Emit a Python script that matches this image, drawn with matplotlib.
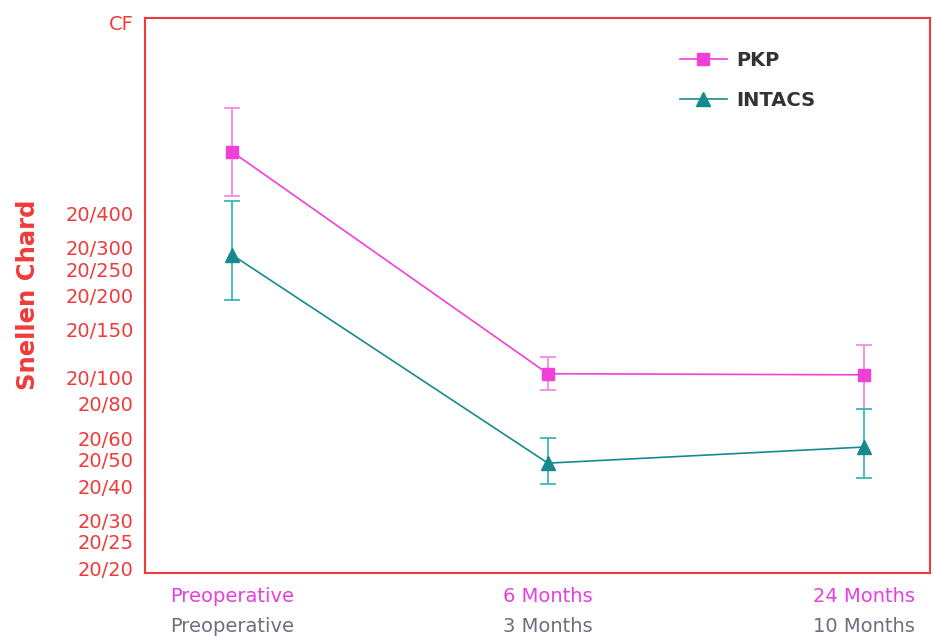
import numpy as np
import matplotlib.pyplot as plt

# visual acuity on a logMAR scale (0 = 20/20, 2.0 = CF)
timepoints = [0, 1, 2]
pkp_labels = ['Preoperative', '6 Months', '24 Months']
intacs_labels = ['Preoperative', '3 Months', '10 Months']

pkp_mean = [1.527, 0.713, 0.709]
pkp_low = [1.364, 0.655, 0.582]
pkp_high = [1.687, 0.775, 0.818]

intacs_mean = [1.149, 0.385, 0.444]
intacs_low = [0.985, 0.309, 0.331]
intacs_high = [1.345, 0.476, 0.582]

snellen_labels = ['20/20', '20/25', '20/30', '20/40', '20/50', '20/60', '20/80',
                  '20/100', '20/150', '20/200', '20/250', '20/300', '20/400', 'CF']
snellen_denoms = [20, 25, 30, 40, 50, 60, 80, 100, 150, 200, 250, 300, 400, 2000]

red = '#f03a3a'
pink = '#f040d8'
pink_light = '#f58ae6'
teal = '#168a8f'
teal_light = '#3cb8bc'

plt.rcParams['font.family'] = 'DejaVu Sans'

fig = plt.figure(figsize=(9.34, 6.38), dpi=100)
ax = fig.add_axes([145 / 934, 65 / 638, 785 / 934, 555 / 638])

pkp_err = [np.subtract(pkp_mean, pkp_low), np.subtract(pkp_high, pkp_mean)]
intacs_err = [np.subtract(intacs_mean, intacs_low), np.subtract(intacs_high, intacs_mean)]

# error bars first, then lines with markers on top
ax.errorbar(timepoints, pkp_mean, yerr=pkp_err, fmt='none', ecolor=pink_light,
            elinewidth=1.3, capsize=6, capthick=1.3, zorder=2)
ax.errorbar(timepoints, intacs_mean, yerr=intacs_err, fmt='none', ecolor=teal_light,
            elinewidth=1.3, capsize=6, capthick=1.3, zorder=2)
ax.plot(timepoints, pkp_mean, color=pink, lw=1.2, marker='s', ms=8.5,
        mfc=pink, mec=pink, label='PKP', zorder=3)
ax.plot(timepoints, intacs_mean, color=teal, lw=1.2, marker='^', ms=9.5,
        mfc=teal, mec=teal, label='INTACS', zorder=3)

yticks = [np.log10(d / 20) for d in snellen_denoms]
ax.set_yticks(yticks)
ax.set_yticklabels(snellen_labels, color=red, fontsize=14)
ax.set_ylim(-0.018, 2.0 + 0.018)
ax.set_xlim(-0.276, 2.21)
ax.set_xticks([])
ax.tick_params(axis='y', length=0, pad=8)

xtr = ax.get_xaxis_transform()
for x, top, bottom in zip(timepoints, pkp_labels, intacs_labels):
    ax.text(x, -0.043, top, color='#e83ee0', fontsize=14, ha='center', va='center',
            transform=xtr)
    ax.text(x, -0.097, bottom, color='#6e6e80', fontsize=14, ha='center', va='center',
            transform=xtr)

for s in ax.spines.values():
    s.set_color(red)
    s.set_linewidth(1.5)

fig.text(28 / 934, 1 - 295 / 638, 'Snellen Chard', rotation=90, color=red,
         fontsize=17.5, fontweight='bold', ha='center', va='center')

leg = ax.legend(loc='upper left', bbox_to_anchor=(0.6815, 0.94), frameon=False,
                borderpad=0, borderaxespad=0,
                prop={'size': 14, 'weight': 'bold'}, handlelength=2.4,
                labelspacing=1.05, handletextpad=0.5)
for t in leg.get_texts():
    t.set_color('#333333')

fig.savefig('out.png', dpi=100)
